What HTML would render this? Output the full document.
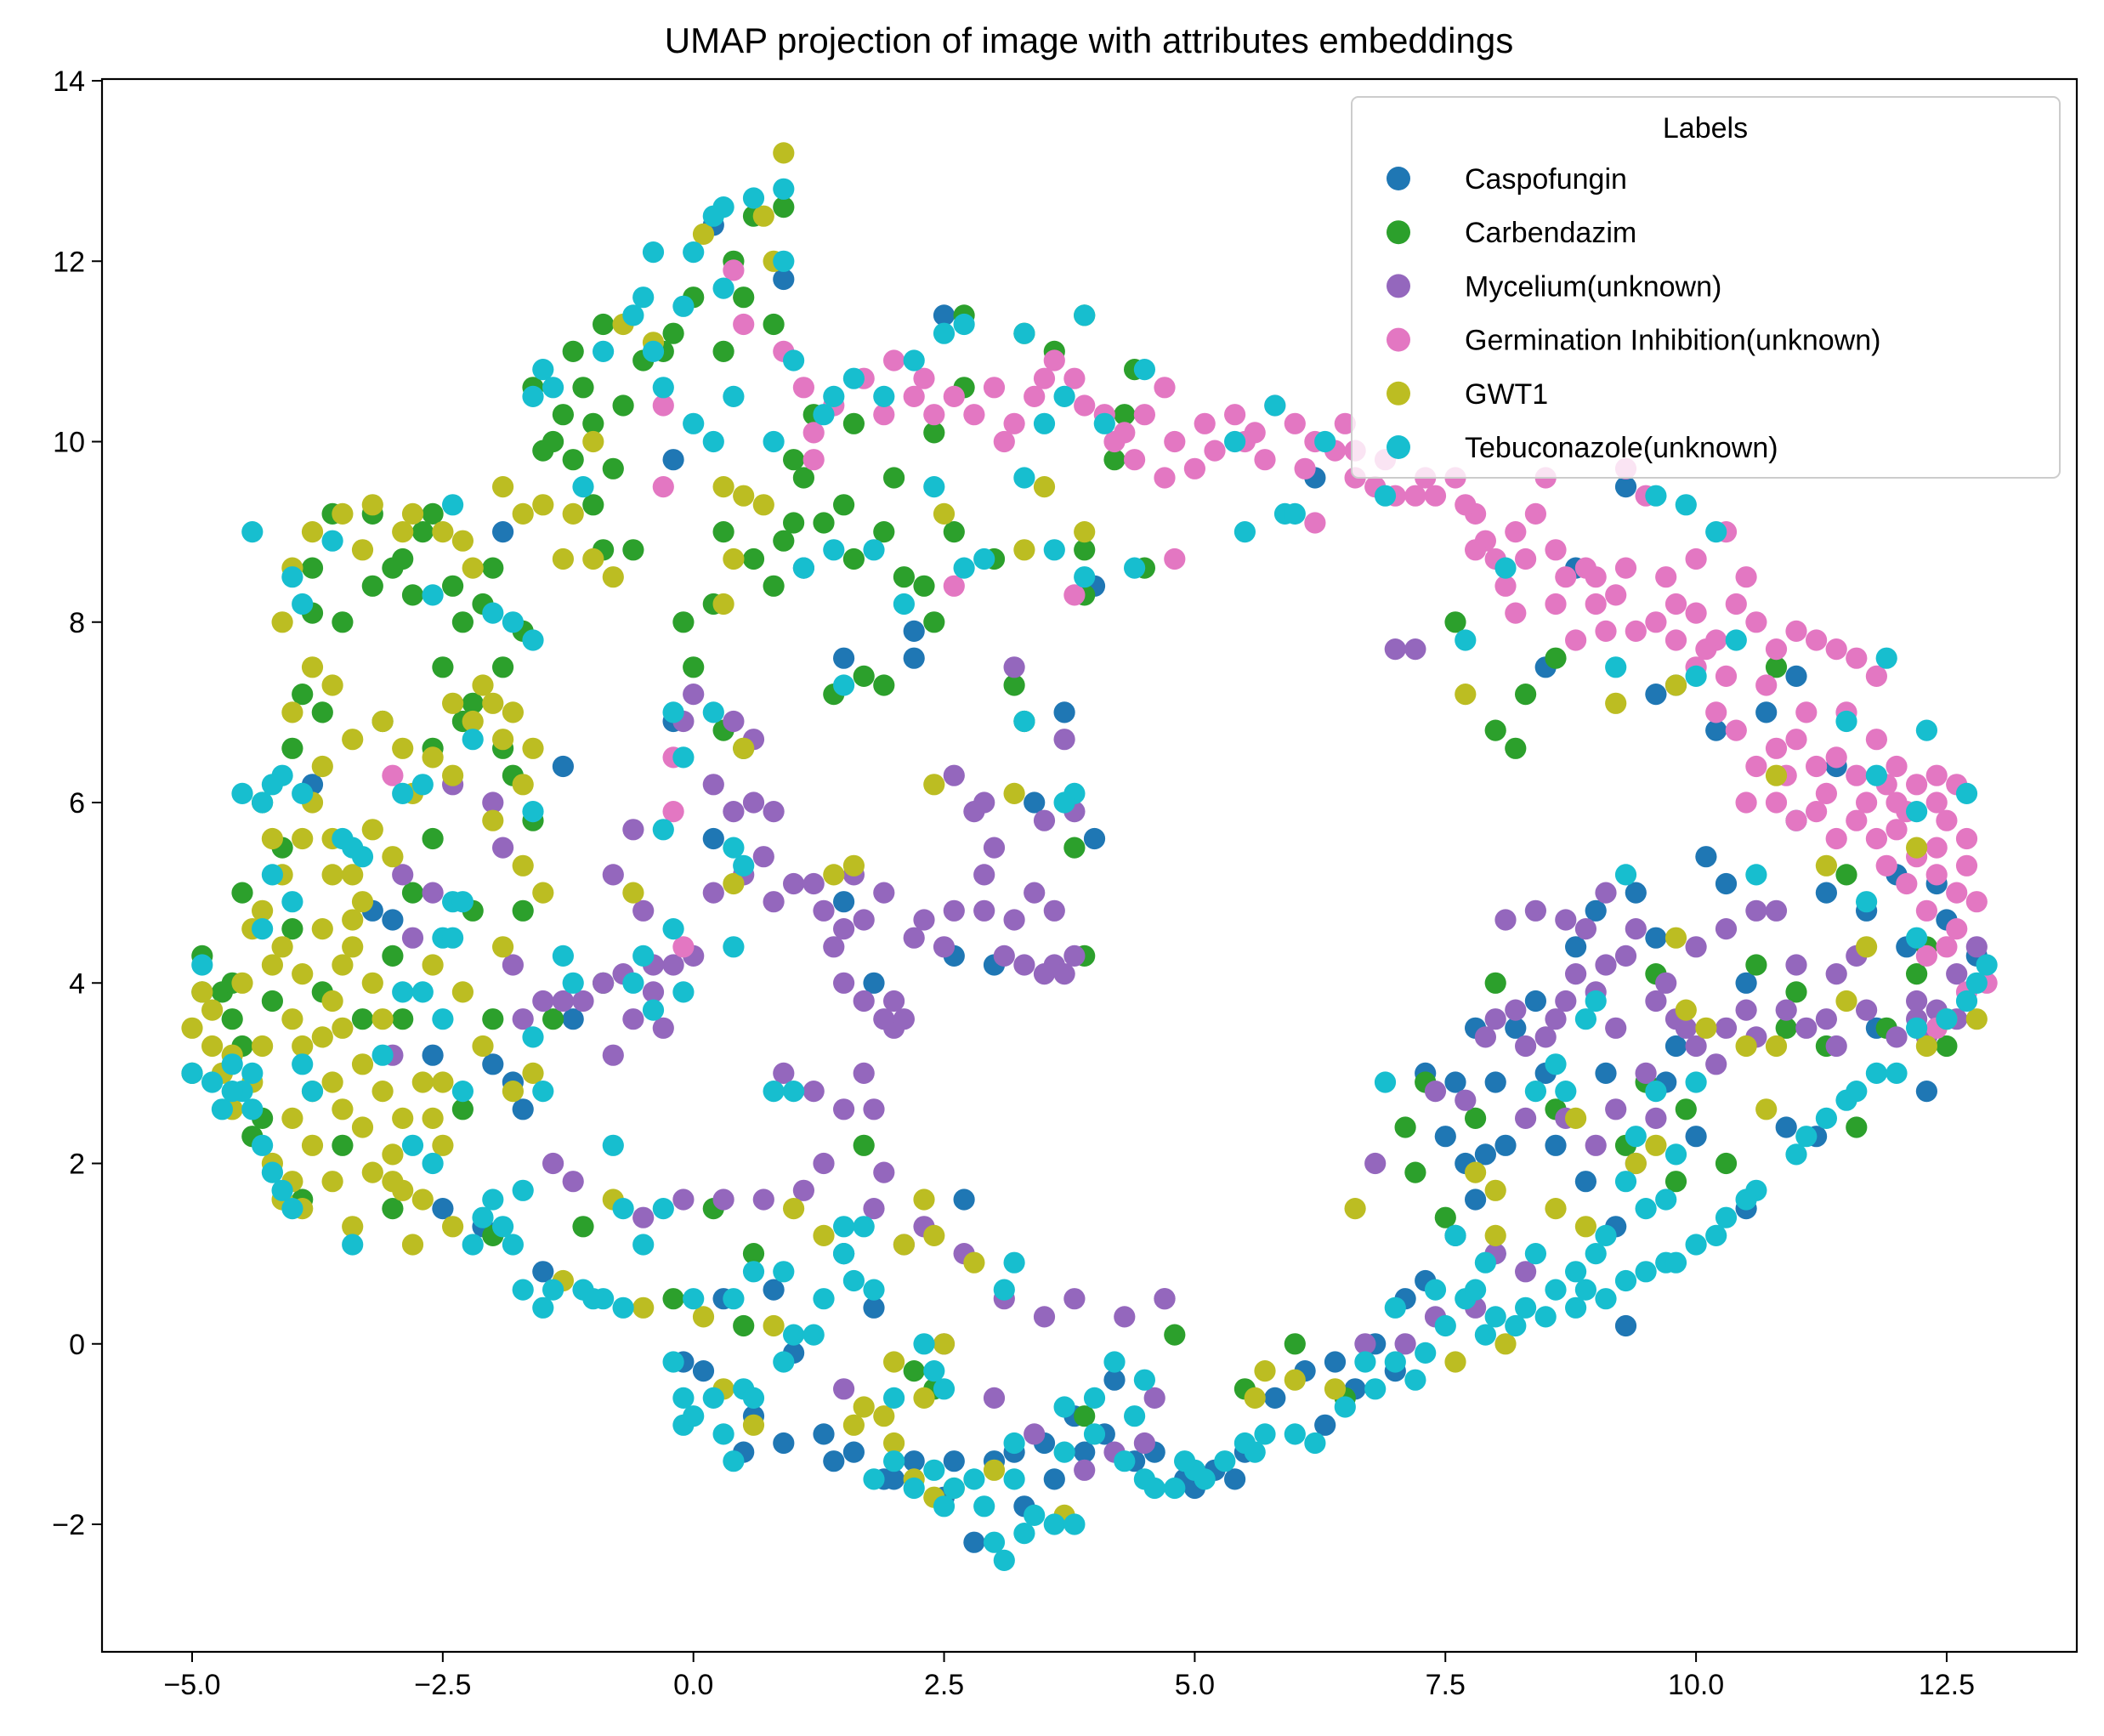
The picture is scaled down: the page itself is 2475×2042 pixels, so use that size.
<!DOCTYPE html>
<html><head><meta charset="utf-8"><style>
html,body{margin:0;padding:0;background:#fff;}
svg{display:block;font-family:"Liberation Sans","DejaVu Sans",sans-serif;}
</style></head><body>
<svg id="chart" width="2475" height="2042" viewBox="0 0 2475 2042" xmlns="http://www.w3.org/2000/svg">
<rect x="0" y="0" width="2475" height="2042" fill="#fff"/>
<text x="1281" y="62" font-size="42" text-anchor="middle" fill="#000">UMAP projection of image with attributes embeddings</text>
<g id="points"></g>
<g id="axes"></g>
<g id="legend"></g>
</svg>
<script>
const seriesNames = ["Caspofungin","Carbendazim","Mycelium(unknown)","Germination Inhibition(unknown)","GWT1","Tebuconazole(unknown)"];
const seriesColors = ["#1f77b4","#2ca02c","#9467bd","#e377c2","#bcbd22","#17becf"];
const xTicks = [-5.0,-2.5,0.0,2.5,5.0,7.5,10.0,12.5];
const xTickLabels = ["\u22125.0","\u22122.5","0.0","2.5","5.0","7.5","10.0","12.5"];
const yTicks = [-2,0,2,4,6,8,10,12,14];
const yTickLabels = ["\u22122","0","2","4","6","8","10","12","14"];

const caspofungin = [[-3.8,6.2],[-3.2,4.8],[-2.0,3.1],[-1.8,2.9],[-2.5,1.5],[-1.5,0.8],[-1.2,3.6],[-1.3,6.4],[-1.9,9.0],[0.3,0.5],[0.1,-0.3],[0.6,-0.8],[0.9,-1.1],[1.3,-1.0],[1.6,-1.2],[1.9,-1.5],[2.2,-1.3],[2.5,-1.7],[2.8,-2.2],[3.0,-1.3],[3.3,-1.8],[3.5,-1.1],[3.8,-0.8],[4.1,-1.0],[4.4,-1.3],[4.9,-1.5],[5.2,-1.4],[5.5,-1.2],[5.8,-0.6],[6.1,-0.3],[6.4,-0.2],[6.8,0.0],[7.1,0.5],[7.3,0.7],[7.6,1.2],[7.8,1.6],[7.9,2.1],[7.6,2.9],[7.8,3.5],[8.2,3.5],[8.5,3.0],[8.6,2.2],[8.9,1.8],[9.2,1.3],[9.0,4.8],[9.4,5.0],[9.6,4.5],[9.8,3.3],[9.7,2.9],[10.1,5.4],[10.3,5.1],[10.9,2.4],[11.2,2.3],[11.3,5.0],[11.7,4.8],[12.0,5.2],[12.5,4.7],[12.8,4.3],[11.0,7.4],[10.7,7.0],[10.2,6.8],[9.8,7.3],[8.5,7.5],[8.8,8.6],[6.2,9.6],[9.3,9.5],[2.2,7.6],[2.2,7.9],[1.5,7.6],[4.0,8.4],[3.4,6.0],[3.7,7.0],[2.6,4.3],[3.0,4.2],[1.8,4.0],[0.2,5.6],[-0.2,6.9],[1.1,8.6],[2.5,11.4],[0.9,11.8],[0.2,12.4],[-0.2,9.8],[4.0,5.6],[7.5,2.3],[7.3,3.0],[8.0,1.0],[9.3,0.2],[10.5,1.5],[11.8,3.5],[12.3,2.8],[5.0,-1.6],[6.6,-0.5],[2.7,1.6],[1.5,1.0],[1.8,0.4],[-0.1,-0.2],[0.5,-1.2],[1.0,-0.1],
[1.4,-1.3],[2.0,-1.5],[2.6,-1.3],[3.2,-1.2],[3.6,-1.5],[4.6,-1.2],[5.4,-1.5],[6.3,-0.9],[7.0,-0.3],[7.7,2.0],[8.1,2.2],[8.0,2.9],[8.4,3.8],[8.8,4.4],[9.1,3.0],[10.0,2.3],[11.0,5.8],[11.4,6.4],[12.4,5.1],[12.1,4.4],[10.5,4.0],[9.6,7.2],[-2.6,3.2],[-1.7,2.6],[-3.0,4.7],[-2.1,1.3],[0.8,0.6],[3.9,-1.2],[4.2,-0.4],[1.5,4.9]];
const carbendazim = [[-5.0,3.0],[-4.9,4.3],[-4.7,3.9],[-4.6,3.6],[-4.4,2.3],[-4.2,3.8],[-4.1,5.5],[-3.9,7.2],[-3.8,8.1],[-3.6,9.2],[-3.2,9.2],[-2.9,8.7],[-2.6,9.2],[-2.4,8.4],[-2.1,8.2],[-1.9,7.5],[-1.7,7.9],[-2.6,6.6],[-2.3,6.9],[-2.8,5.0],[-3.3,3.6],[-3.5,2.2],[-3.0,1.5],[-1.6,5.8],[-1.7,4.8],[-1.4,3.6],[-0.9,4.0],[-1.5,9.9],[-1.6,10.6],[-1.4,10.0],[-1.2,9.8],[-1.0,10.2],[-0.8,9.7],[-0.9,8.8],[-0.6,8.8],[-1.2,11.0],[-0.9,11.3],[-0.5,10.9],[-0.2,11.2],[0.0,11.6],[0.3,11.0],[0.4,12.0],[0.6,12.5],[0.9,12.6],[0.8,11.3],[1.1,9.6],[1.3,9.1],[1.5,9.3],[1.6,8.7],[0.9,8.9],[0.6,8.7],[0.3,9.0],[0.2,8.2],[-0.1,8.0],[0.0,7.5],[0.3,6.8],[0.5,6.6],[1.4,7.2],[1.7,7.4],[2.1,8.5],[2.4,8.0],[2.0,9.6],[2.4,10.1],[2.7,11.4],[3.3,11.2],[3.9,11.4],[4.4,10.8],[4.2,9.8],[3.9,8.8],[3.9,8.3],[4.5,8.6],[3.2,7.3],[3.3,6.9],[3.8,5.5],[3.9,4.3],[7.6,8.0],[8.0,6.8],[8.2,6.6],[8.3,7.2],[8.6,7.6],[10.8,7.5],[11.5,5.2],[10.6,4.2],[11.0,3.9],[12.2,4.1],[12.5,3.3],[11.6,2.4],[10.9,3.5],[9.9,2.6],[9.5,2.9],[9.3,2.2],[9.8,1.8],[7.3,2.9],[7.1,2.4],[7.2,1.9],[7.5,1.4],[8.0,4.0],[9.6,4.1],[6.5,-0.6],[6.0,0.0],[4.8,0.1],[3.9,-0.8],[2.2,-0.3],[2.4,-0.5],[1.7,2.2],[0.2,1.5],[-0.2,0.5],[0.6,1.0],[-1.1,1.3],[-2.0,1.2],[-2.9,3.6],[-2.2,4.8],[-3.1,6.9],[-4.3,6.0],[-4.5,5.0],[-4.0,4.6],[-3.7,3.9],[-3.9,1.6],[-4.3,2.5],[-2.0,3.6],[-2.3,2.6],[-2.5,7.5],[-2.2,7.1],[-1.8,6.3],[-3.5,8.0],[-3.0,8.6],[-2.7,9.0],[1.0,9.8],[1.6,10.2],[2.6,9.0],[3.0,8.7],
[-1.3,10.3],[-1.1,10.6],[-0.7,10.4],[-1.0,9.3],[-0.3,11.0],[0.5,11.6],[1.2,10.3],[1.9,9.0],[2.3,8.4],[0.8,8.4],[1.0,9.1],[-2.0,8.6],[-2.3,8.0],[-2.8,8.3],[-3.2,8.4],[-3.8,8.6],[-4.0,6.6],[-3.7,7.0],[-4.6,4.0],[-4.9,3.9],[-4.5,3.3],[-3.0,4.3],[-2.6,5.6],[-1.9,6.6],[1.9,7.3],[2.7,10.6],[3.6,11.0],[4.3,10.3],[11.3,3.3],[11.9,3.5],[12.3,4.4],[10.3,2.0],[8.6,2.6],[7.8,2.5],[5.5,-0.5],[0.5,0.2]];
const mycelium = [[-3.0,3.2],[-2.8,4.5],[-2.6,5.0],[-2.9,5.2],[-2.4,6.2],[-2.0,6.0],[-1.9,5.5],[-1.8,4.2],[-1.7,3.6],[-1.3,3.8],[-1.1,3.8],[-0.9,4.0],[-0.7,4.1],[-0.6,3.6],[-0.8,3.2],[-0.4,3.9],[-0.2,4.2],[-0.5,4.8],[-0.8,5.2],[-0.6,5.7],[-0.4,4.2],[0.0,4.3],[0.2,5.0],[0.5,5.2],[0.7,5.4],[0.8,5.9],[0.6,6.0],[0.2,6.2],[-0.1,6.9],[0.0,7.2],[0.4,6.9],[0.6,6.7],[1.0,5.1],[1.3,4.8],[1.4,4.4],[1.5,4.0],[1.7,3.8],[1.6,5.2],[1.9,5.0],[2.1,3.6],[2.3,4.7],[2.6,4.8],[2.9,4.8],[3.1,4.3],[3.3,4.2],[3.6,4.2],[3.8,4.3],[3.6,4.8],[3.4,5.0],[3.5,5.8],[3.7,6.7],[3.8,5.9],[2.9,5.2],[2.8,5.9],[2.6,6.3],[3.2,4.7],[3.0,5.5],[2.9,6.0],[3.2,7.5],[0.9,3.0],[1.2,2.8],[1.5,2.6],[1.7,3.0],[2.0,3.5],[1.8,2.6],[1.3,2.0],[1.1,1.7],[0.7,1.6],[0.3,1.6],[-0.1,1.6],[-0.5,1.4],[-1.2,1.8],[-1.4,2.0],[1.8,1.5],[2.3,1.3],[2.7,1.0],[3.1,0.5],[3.5,0.3],[3.8,0.5],[4.3,0.3],[4.7,0.5],[4.5,-1.1],[4.2,-1.2],[3.9,-1.4],[3.4,-1.0],[3.0,-0.6],[2.5,0.0],[1.5,-0.5],[7.9,3.4],[8.2,3.7],[8.5,3.4],[8.7,3.8],[9.0,3.9],[9.2,3.5],[9.5,3.0],[9.8,3.6],[10.0,3.3],[10.3,3.5],[10.6,3.4],[10.9,3.7],[11.1,3.5],[11.4,3.3],[11.7,3.7],[12.0,3.4],[12.2,3.6],[10.3,4.6],[10.6,4.8],[8.1,4.7],[8.4,4.8],[8.7,4.7],[8.9,4.6],[9.1,5.0],[9.3,4.3],[9.6,3.8],[10.8,4.8],[11.0,4.2],[11.4,4.1],[11.6,4.3],[8.7,2.5],[9.0,2.2],[9.2,2.6],[9.4,2.0],[9.6,2.5],[8.3,2.5],[8.0,1.0],[8.3,0.8],[7.8,0.4],[7.4,0.3],[7.1,0.0],[6.7,0.0],[6.8,2.0],[7.4,2.8],[7.7,2.7],[10.0,4.4],[12.6,3.6],[12.8,4.4],[12.3,3.4],[12.6,4.1],[12.2,3.8],[7.0,7.7],[7.2,7.7],[4.7,0.5],[4.6,-0.6],
[1.5,4.6],[1.7,4.7],[2.2,4.5],[2.5,4.4],[3.5,4.1],[3.7,4.1],[2.0,3.8],[1.9,3.6],[0.8,4.9],[1.2,5.1],[0.4,5.9],[-1.5,3.8],[-0.3,3.5],[8.0,3.6],[8.3,3.3],[8.6,3.6],[9.4,4.6],[9.7,4.0],[10.5,3.7],[11.3,3.6],[12.4,3.7],[8.8,4.1],[9.1,4.2],[9.9,3.5],[10.2,3.1],[1.9,1.9],[2.1,1.1]];
const germination = [[0.5,11.3],[0.9,11.0],[1.1,10.6],[1.4,10.4],[1.7,10.7],[2.0,10.9],[2.3,10.7],[2.6,10.5],[2.8,10.3],[3.0,10.6],[3.2,10.2],[3.4,10.5],[3.6,10.9],[3.8,10.7],[4.1,10.3],[4.3,10.1],[4.5,10.3],[4.7,10.6],[4.8,10.0],[4.7,9.6],[5.0,9.7],[5.2,9.9],[5.4,10.3],[5.6,10.1],[5.8,10.4],[6.0,10.2],[6.2,10.0],[6.4,9.9],[6.6,9.6],[6.8,9.5],[7.0,9.4],[7.2,9.4],[7.4,9.4],[7.6,9.6],[7.8,9.2],[7.9,8.9],[8.0,8.7],[8.1,8.4],[8.2,9.0],[8.4,9.2],[8.5,9.6],[8.6,8.8],[8.7,8.5],[8.9,8.6],[9.0,8.2],[9.2,8.3],[9.4,7.9],[9.6,8.0],[9.8,7.8],[10.0,8.1],[10.0,7.5],[10.2,7.8],[10.4,8.2],[10.5,8.5],[10.6,8.0],[10.8,7.7],[11.0,7.9],[11.2,7.8],[11.4,7.7],[11.6,7.6],[11.8,7.4],[10.2,7.0],[10.4,6.8],[10.6,6.4],[10.8,6.6],[11.0,6.7],[11.2,6.4],[11.4,6.5],[11.6,6.3],[11.8,6.7],[12.0,6.4],[12.2,6.2],[12.4,6.0],[12.6,6.2],[10.8,6.0],[11.0,5.8],[11.2,5.9],[11.4,5.6],[11.6,5.8],[11.8,5.6],[12.0,5.7],[12.2,5.4],[12.4,5.5],[12.6,5.0],[12.3,4.8],[12.5,4.4],[12.7,5.3],[11.7,6.0],[12.0,6.0],[12.4,6.3],[10.3,9.0],[10.0,8.7],[9.5,9.4],[9.3,9.7],[4.2,10.0],[6.6,9.9],[3.8,8.3],[4.8,8.7],[2.6,8.4],[1.2,9.8],[-0.3,10.4],[-0.3,9.5],[0.4,11.9],[8.8,7.8],[9.0,8.5],[9.7,8.5],[10.1,7.7],[12.7,3.9],[12.4,3.5],[-0.2,6.5],[-0.2,5.9],[-3.0,6.3],[-0.1,4.4],[8.2,8.1],[7.8,8.8],[6.2,9.1],[5.5,10.0],[12.9,4.0],
[1.2,10.1],[1.9,10.3],[2.4,10.3],[3.1,10.0],[3.9,10.4],[4.4,9.8],[5.1,10.2],[5.7,9.8],[6.1,9.7],[6.5,10.2],[6.9,9.8],[7.3,9.6],[7.7,9.3],[8.3,8.7],[8.6,8.2],[9.1,7.9],[9.3,8.6],[9.8,8.2],[10.3,7.4],[10.7,7.3],[11.1,7.0],[11.5,7.0],[11.9,6.2],[12.1,5.9],[12.5,5.8],[12.7,5.6],[11.3,6.1],[10.9,6.3],[10.5,6.0],[12.1,5.1],[12.4,5.2],[12.6,4.6],[12.3,4.3],[12.8,4.9],[11.9,5.3],[2.2,10.5],[3.5,10.7]];
const gwt1 = [[-5.0,3.5],[-4.9,3.9],[-4.8,3.3],[-4.7,3.0],[-4.6,2.6],[-4.5,4.0],[-4.4,4.6],[-4.3,3.3],[-4.2,2.0],[-4.1,1.6],[-4.0,1.8],[-3.9,1.5],[-3.8,2.8],[-3.7,3.4],[-3.6,3.8],[-3.5,4.2],[-3.4,4.4],[-3.3,4.9],[-3.2,4.0],[-3.1,3.6],[-3.0,2.1],[-2.9,1.7],[-2.7,1.6],[-2.6,2.5],[-2.5,2.9],[-2.4,1.3],[-2.8,1.1],[-3.4,1.3],[-3.6,1.8],[-3.8,2.2],[-3.5,2.6],[-3.3,2.4],[-3.2,1.9],[-4.3,4.8],[-4.1,5.2],[-3.9,5.6],[-3.8,6.0],[-3.6,5.6],[-3.4,5.2],[-3.2,5.7],[-3.0,5.4],[-2.8,6.1],[-2.6,6.5],[-2.4,6.3],[-2.2,6.9],[-2.0,7.1],[-1.8,7.0],[-1.6,6.6],[-1.7,6.2],[-2.0,5.8],[-1.9,4.4],[-1.7,5.3],[-1.5,5.0],[-1.6,3.0],[-1.8,2.8],[-2.1,3.3],[-2.3,3.9],[-2.6,4.2],[-4.0,7.0],[-3.8,7.5],[-4.1,8.0],[-4.0,8.6],[-3.8,9.0],[-3.5,9.2],[-3.2,9.3],[-2.8,9.2],[-2.5,9.0],[-2.2,8.6],[-1.9,9.5],[-1.5,9.3],[-1.2,9.2],[-1.3,8.7],[-1.0,8.7],[-0.8,8.5],[-1.0,10.0],[-0.7,11.3],[-0.4,11.1],[0.3,9.5],[0.5,9.4],[0.7,9.3],[0.4,8.7],[0.3,8.2],[0.8,12.0],[0.9,13.2],[0.7,12.5],[0.1,12.3],[2.5,9.2],[3.5,9.5],[3.9,9.0],[3.3,8.8],[3.2,6.1],[2.4,6.2],[1.6,5.3],[1.4,5.2],[0.4,5.1],[0.5,6.6],[-0.6,5.0],[-0.8,1.6],[-1.3,0.7],[-0.5,0.4],[0.1,0.3],[0.3,-0.5],[0.8,0.2],[1.0,1.5],[1.3,1.2],[2.1,1.1],[2.3,1.6],[2.0,-0.2],[2.3,-0.6],[1.6,-0.9],[1.9,-0.8],[2.5,0.0],[2.8,0.9],[2.6,-1.6],[2.2,-1.5],[3.7,-1.9],[3.0,-1.4],[0.6,-0.9],[5.6,-0.6],[6.0,-0.4],[5.7,-0.3],[6.4,-0.5],[6.6,1.5],[7.6,-0.2],[7.8,1.9],[8.0,1.7],[8.1,0.0],[8.6,1.5],[8.9,1.3],[8.8,2.5],[9.4,2.0],[9.6,2.2],[9.9,3.7],[9.8,4.5],[10.1,3.5],[10.7,2.6],[10.5,3.3],[10.8,3.3],[11.5,3.8],[11.7,4.4],[12.2,5.5],[12.5,3.6],[10.8,6.3],[11.3,5.3],[9.8,7.3],[9.2,7.1],[7.7,7.2],[8.0,1.2],[12.8,3.6],[12.3,3.3],
[-4.8,3.7],[-4.6,3.2],[-4.4,2.9],[-4.2,4.2],[-4.0,3.6],[-3.9,4.1],[-3.7,4.6],[-3.5,3.5],[-3.3,3.1],[-3.1,2.8],[-2.9,2.5],[-2.7,2.9],[-2.5,2.2],[-3.0,1.8],[-3.6,2.9],[-3.9,3.3],[-4.0,2.5],[-4.2,5.6],[-3.7,6.4],[-3.4,6.7],[-3.1,6.9],[-2.9,6.6],[-2.4,7.1],[-2.1,7.3],[-1.9,6.7],[-3.6,7.3],[-3.3,8.8],[-2.9,9.0],[-2.3,8.9],[-1.7,9.2],[-3.4,4.7],[-3.6,5.2],[-4.1,4.4],[1.7,-0.7],[2.4,-1.7],[2.0,-1.1],[2.4,1.2]];
const tebuconazole = [[-5.0,3.0],[-4.9,4.2],[-4.7,2.6],[-4.6,3.1],[-4.5,2.8],[-4.4,3.0],[-4.5,6.1],[-4.3,6.0],[-4.2,5.2],[-4.3,4.6],[-4.1,6.3],[-4.0,4.9],[-3.9,3.1],[-3.8,2.8],[-4.2,1.9],[-4.0,1.5],[-3.5,5.6],[-3.3,5.4],[-3.4,1.1],[-3.1,3.2],[-2.9,3.9],[-2.7,3.9],[-2.5,3.6],[-2.4,4.9],[-2.5,4.5],[-2.3,4.9],[-2.8,2.2],[-2.6,2.0],[-2.3,2.8],[-2.2,1.1],[-2.0,1.6],[-1.9,1.3],[-1.7,1.7],[-1.5,2.8],[-1.6,3.4],[-1.7,0.6],[-1.5,0.4],[-1.1,0.6],[-0.9,0.5],[-0.7,1.5],[-0.8,2.2],[-0.5,1.1],[-0.3,1.5],[-4.4,9.0],[-4.0,8.5],[-3.9,8.2],[-3.6,8.9],[-2.6,8.3],[-2.4,9.3],[-2.0,8.1],[-1.8,8.0],[-1.6,7.8],[-2.2,6.7],[-2.9,6.1],[-2.7,6.2],[-1.6,5.9],[-1.2,4.0],[-1.3,4.3],[-0.5,4.3],[-0.4,3.7],[-0.2,4.6],[-0.3,5.7],[-0.2,7.0],[-0.1,6.5],[0.4,5.5],[0.2,7.0],[-1.6,10.5],[-1.5,10.8],[-1.1,9.5],[-0.9,11.0],[-0.6,11.4],[-0.4,11.0],[-0.3,10.6],[0.0,10.2],[0.2,10.0],[0.4,10.5],[0.8,10.0],[1.0,10.9],[1.3,10.3],[1.6,10.7],[1.9,10.5],[2.2,10.9],[2.7,11.3],[3.3,11.2],[3.9,11.4],[3.7,10.5],[3.5,10.2],[3.3,9.6],[3.6,8.8],[2.4,9.5],[2.1,8.2],[1.8,8.8],[1.4,8.8],[1.1,8.6],[-0.4,12.1],[0.0,12.1],[0.3,12.6],[0.6,12.7],[0.9,12.8],[0.9,12.0],[0.2,12.5],[0.3,11.7],[4.5,10.8],[4.1,10.2],[5.5,9.0],[5.9,9.2],[6.3,10.0],[6.0,9.2],[5.8,10.4],[5.4,10.0],[6.9,9.4],[7.7,7.8],[8.1,8.6],[9.2,7.5],[9.6,9.4],[9.9,9.3],[10.2,9.0],[10.4,7.8],[10.0,7.4],[11.9,7.6],[11.8,6.3],[11.5,6.9],[12.3,6.8],[12.7,6.1],[12.2,5.9],[12.2,4.5],[11.7,4.9],[10.6,5.2],[12.9,4.2],[12.7,3.8],[12.2,3.5],[11.8,3.0],[11.5,2.7],[11.3,2.5],[11.0,2.1],[10.6,1.7],[10.3,1.4],[10.0,1.1],[9.7,0.9],[9.5,0.8],[9.3,0.7],[9.1,0.5],[8.8,0.4],[8.5,0.3],[8.2,0.2],[7.9,0.1],[7.7,0.5],[7.9,0.9],[8.4,1.0],[8.8,0.8],[9.0,1.0],[9.1,1.2],[9.5,1.5],[9.7,1.6],[10.0,2.9],[9.8,2.1],[9.4,2.3],[9.6,2.8],[9.3,1.8],[8.7,2.8],[8.4,2.8],[8.6,3.1],[8.9,3.6],[9.0,3.8],[9.3,5.2],[7.4,0.6],[7.3,-0.1],[7.2,-0.4],[7.0,-0.2],[6.8,-0.5],[6.5,-0.7],[6.2,-1.1],[6.0,-1.0],[5.7,-1.0],[5.5,-1.1],[5.3,-1.3],[5.0,-1.4],[4.8,-1.6],[4.5,-1.5],[4.3,-1.3],[4.4,-0.8],[4.5,-0.4],[4.2,-0.2],[4.0,-0.6],[3.7,-1.2],[3.6,-2.0],[3.4,-1.9],[3.2,-1.5],[3.1,-2.4],[3.0,-2.2],[2.9,-1.8],[2.6,-1.6],[2.4,-1.4],[2.2,-1.6],[2.0,-1.3],[1.8,-1.5],[2.4,-0.3],[2.5,-0.5],[2.3,0.0],[2.0,-0.6],[6.9,2.9],[7.0,0.4],[7.6,1.2],[7.8,0.6],[1.0,0.1],[0.5,-0.5],[0.2,-0.6],[0.3,-1.0],[0.4,-1.3],[-0.1,-0.6],[-0.1,-0.9],[0.0,0.5],[-0.2,-0.2],[0.4,0.5],[0.6,0.8],[0.9,0.8],[1.3,0.5],[1.5,1.0],[1.6,0.7],[1.7,1.3],[1.8,0.6],[1.2,0.1],[0.9,-0.2],[1.0,2.8],[0.8,2.8],[1.5,1.3],[3.2,0.9],[3.1,0.6],[3.7,-0.7],[4.0,-1.0],[3.2,-1.1],[10.2,1.2],[9.8,0.9],[8.6,0.6],[3.8,6.1],[3.7,6.0],[3.3,6.9],[3.9,8.5],[4.4,8.6],[2.9,8.7],[2.7,8.6],[1.5,7.3],[0.5,5.3],[0.4,4.4],[-0.6,4.0],[-0.1,3.9],
[-4.8,2.9],[-4.6,2.8],[-4.4,2.6],[-4.3,2.2],[-4.1,1.7],[-2.1,1.4],[-1.8,1.1],[-1.4,0.6],[-1.0,0.5],[-0.7,0.4],[5.1,-1.5],[5.6,-1.2],[4.6,-1.6],[4.9,-1.3],[2.8,-1.5],[2.5,-1.8],[3.3,-2.1],[3.8,-2.0],[6.7,-0.2],[7.5,0.2],[8.0,0.3],[8.3,0.4],[8.9,0.6],[10.5,1.6],[11.1,2.3],[11.6,2.8],[12.0,3.0],[12.5,3.6],[12.8,4.0],[-0.5,11.6],[-0.1,11.5],[1.4,10.5],[2.5,11.2],[-1.4,10.6],[-3.9,6.1],[-4.2,6.2],[-3.4,5.5],[-2.4,4.5],[0.0,-0.8],[0.6,-0.6]];

const allSeries = [caspofungin, carbendazim, mycelium, germination, gwt1, tebuconazole];
const slugs = ["caspofungin","carbendazim","mycelium","germination-inhibition","gwt1","tebuconazole"];

const NS = "http://www.w3.org/2000/svg";
const AX = {left:120, right:2443, top:93, bottom:1943};
function xScale(v){ return 226 + (v + 5) * 117.94; }
function yScale(v){ return 95 + (14 - v) * 106.125; }
function mk(tag, attrs){ const e = document.createElementNS(NS, tag); for (const k in attrs) e.setAttribute(k, attrs[k]); return e; }

const pts = document.getElementById('points');
allSeries.forEach((arr, si) => {
  const g = mk('g', {});
  
  
  arr.forEach(p => {
    const c = mk('circle', {cx: xScale(p[0]).toFixed(1), cy: yScale(p[1]).toFixed(1), r: 12.6, fill: seriesColors[si]});
    
    
    g.appendChild(c);
  });
  pts.appendChild(g);
});

const axes = document.getElementById('axes');
const frame = mk('rect', {x: AX.left, y: AX.top, width: AX.right - AX.left, height: AX.bottom - AX.top, fill: 'none', stroke: '#000', 'stroke-width': 2.2});


axes.appendChild(frame);
xTicks.forEach((t, i) => {
  const x = xScale(t);
  const l = mk('line', {x1: x, x2: x, y1: AX.bottom, y2: AX.bottom + 12, stroke: '#000', 'stroke-width': 2});
  
  
  axes.appendChild(l);
  const tx = mk('text', {x: x, y: AX.bottom + 50, 'font-size': 34, 'text-anchor': 'middle', fill: '#000'});
  tx.textContent = xTickLabels[i];
  
  
  axes.appendChild(tx);
});
yTicks.forEach((t, i) => {
  const y = yScale(t);
  const l = mk('line', {x1: AX.left - 12, x2: AX.left, y1: y, y2: y, stroke: '#000', 'stroke-width': 2});
  
  
  axes.appendChild(l);
  const tx = mk('text', {x: AX.left - 20, y: y + 12, 'font-size': 34, 'text-anchor': 'end', fill: '#000'});
  tx.textContent = yTickLabels[i];
  
  
  axes.appendChild(tx);
});

const leg = document.getElementById('legend');
const box = mk('rect', {x: 1590, y: 114, width: 833, height: 448, rx: 8, fill: '#fff', 'fill-opacity': 0.8, stroke: '#ccc', 'stroke-width': 2});


leg.appendChild(box);
const lt = mk('text', {x: 2006, y: 162, 'font-size': 34, 'text-anchor': 'middle', fill: '#000'});
lt.textContent = 'Labels';


leg.appendChild(lt);
seriesNames.forEach((n, i) => {
  const y = 210 + i * 63.2;
  const c = mk('circle', {cx: 1645, cy: y, r: 14, fill: seriesColors[i]});
  
  
  leg.appendChild(c);
  const t = mk('text', {x: 1723, y: y + 12, 'font-size': 34, fill: '#000'});
  t.textContent = n;
  
  
  leg.appendChild(t);
});
</script>
</body></html>
